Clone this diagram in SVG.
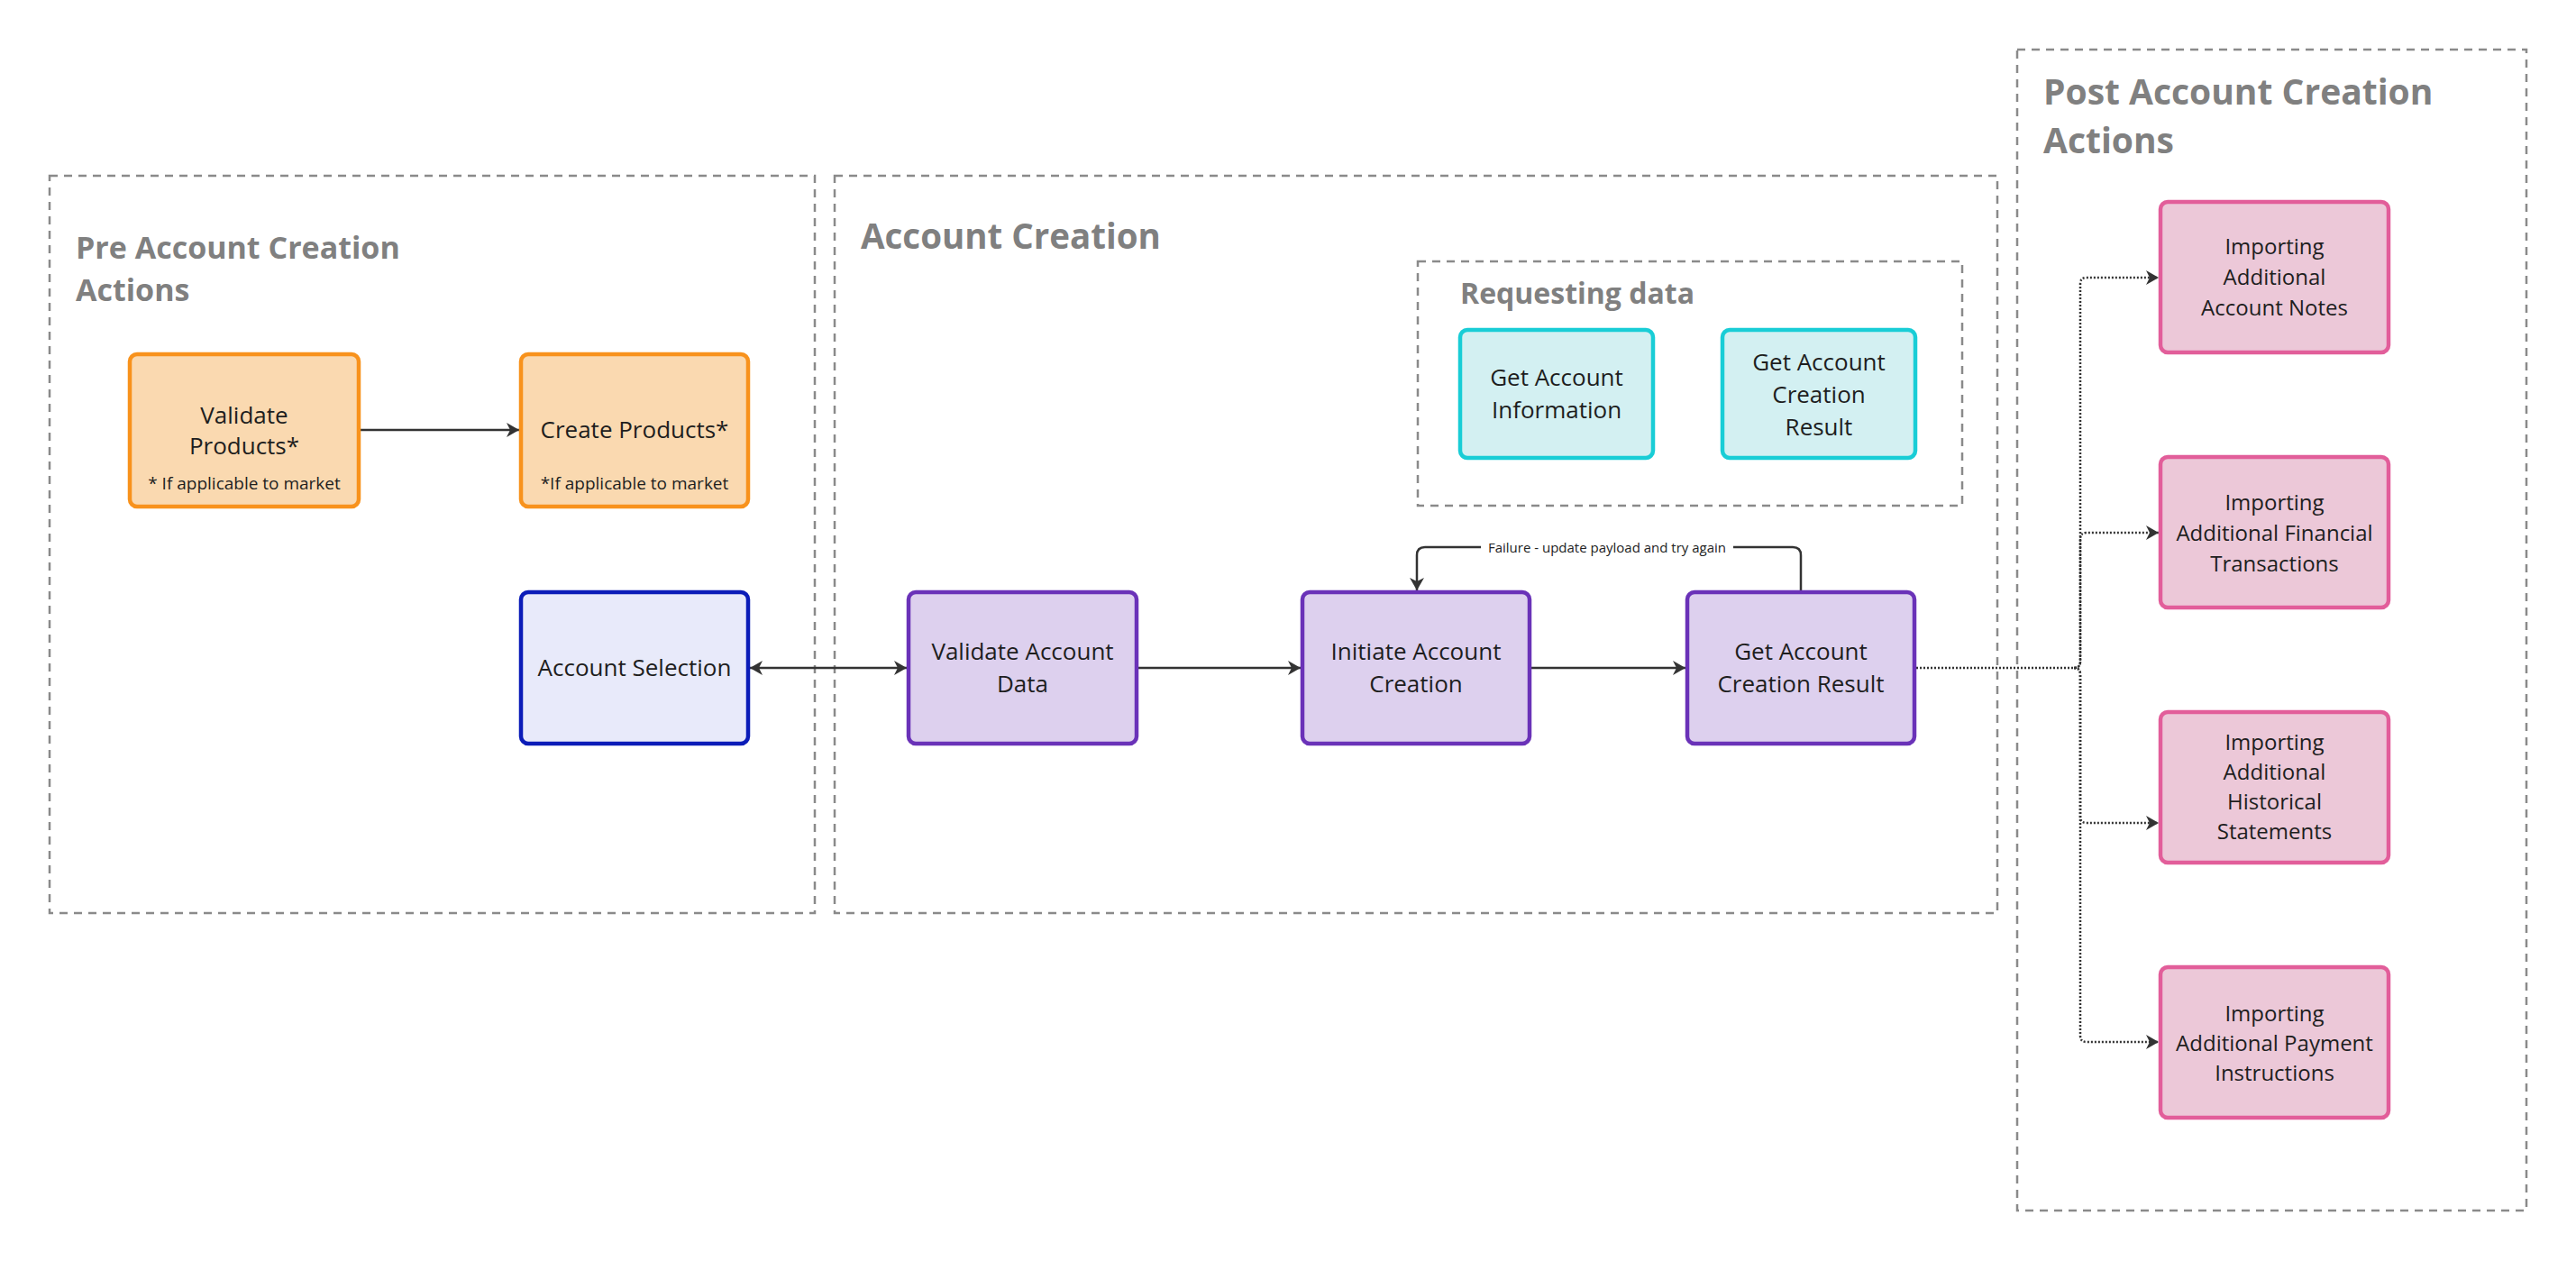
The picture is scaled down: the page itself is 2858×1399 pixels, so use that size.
<svg xmlns="http://www.w3.org/2000/svg" width="2858" height="1399" viewBox="0 0 2858 1399">
<style>
.grp{fill:none;stroke:#8a8a8a;stroke-width:2.5;stroke-dasharray:9 7}
.gt{font-family:"Open Sans","Liberation Sans",sans-serif;font-weight:700;fill:#808080}
.n rect{stroke-width:4.5}
.t{font-family:"Open Sans","Liberation Sans",sans-serif;font-size:26px;fill:#1e1e1e;text-anchor:middle}
.tp{font-family:"Open Sans","Liberation Sans",sans-serif;font-size:24px;fill:#1e1e1e;text-anchor:middle}
.ts{font-family:"Open Sans","Liberation Sans",sans-serif;font-size:19px;fill:#1e1e1e;text-anchor:middle}
.orange{fill:#fad9b0;stroke:#f8921c}
.cyan{fill:#d3f0f2;stroke:#19cdd6}
.purple{fill:#ddd0ee;stroke:#6a32b8}
.blue{fill:#e8eafa;stroke:#0b1cb8}
.pink{fill:#ecc8d8;stroke:#e25e9a}
.c{fill:none;stroke:#333;stroke-width:2.5}
.d{fill:none;stroke:#333;stroke-width:2.5;stroke-dasharray:2 2}
.lbl{font-family:"Open Sans","Liberation Sans",sans-serif;font-size:15px;fill:#222;text-anchor:middle}
</style>
<defs>
<marker id="ah" markerUnits="userSpaceOnUse" viewBox="0 0 14 16" markerWidth="14" markerHeight="16" refX="14" refY="8" orient="auto-start-reverse">
<path d="M0,0 L14,8 L0,16 L4,8 z" fill="#333"/>
</marker>
</defs>
<rect width="2858" height="1399" fill="#ffffff"/>
<g id="group-pre">
<rect class="grp" x="55" y="195" width="849" height="818"/>
<text class="gt" font-size="34" x="84" y="287">Pre Account Creation</text>
<text class="gt" font-size="34" x="84" y="334">Actions</text>
</g>
<g id="group-account-creation">
<rect class="grp" x="926" y="195" width="1290" height="818"/>
<text class="gt" font-size="38.5" x="955" y="276">Account Creation</text>
</g>
<g id="group-requesting">
<rect class="grp" x="1573" y="290" width="604" height="271"/>
<text class="gt" font-size="32" x="1620" y="337">Requesting data</text>
</g>
<g id="group-post">
<rect class="grp" x="2238" y="55" width="565" height="1288"/>
<text class="gt" font-size="39" x="2267" y="116">Post Account Creation</text>
<text class="gt" font-size="39" x="2267" y="170">Actions</text>
</g>
<g id="connectors">
<path class="c" d="M400,477 H576" marker-end="url(#ah)"/>
<path class="c" d="M832,741 H1006" marker-start="url(#ah)" marker-end="url(#ah)"/>
<path class="c" d="M1263,741 H1443" marker-end="url(#ah)"/>
<path class="c" d="M1699,741 H1870" marker-end="url(#ah)"/>
<path class="c" d="M1998,655 V616 Q1998,607 1989,607 H1581 Q1572,607 1572,616 V655" marker-end="url(#ah)"/>
<rect x="1643" y="596" width="280" height="22" fill="#ffffff"/>
<text class="lbl" x="1783" y="613">Failure - update payload and try again</text>
<path class="d" d="M2126,741 H2301 Q2308,741 2308,734 V315 Q2308,308 2315,308 H2395" marker-end="url(#ah)"/>
<path class="d" d="M2301,741 Q2308,741 2308,734 V598 Q2308,591 2315,591 H2395" marker-end="url(#ah)"/>
<path class="d" d="M2301,741 Q2308,741 2308,748 V906 Q2308,913 2315,913 H2395" marker-end="url(#ah)"/>
<path class="d" d="M2301,741 Q2308,741 2308,748 V1149 Q2308,1156 2315,1156 H2395" marker-end="url(#ah)"/>
</g>
<g id="validate-products" class="n">
<rect class="orange" x="144" y="393" width="254" height="169" rx="8"/>
<text class="t" x="271" y="470">Validate</text>
<text class="t" x="271" y="504">Products*</text>
<text class="ts" x="271" y="543">* If applicable to market</text>
</g>
<g id="create-products" class="n">
<rect class="orange" x="578" y="393" width="252" height="169" rx="8"/>
<text class="t" x="704" y="486">Create Products*</text>
<text class="ts" x="704" y="543">*If applicable to market</text>
</g>
<g id="account-selection" class="n">
<rect class="blue" x="578" y="657" width="252" height="168" rx="8"/>
<text class="t" x="704" y="750">Account Selection</text>
</g>
<g id="validate-account-data" class="n">
<rect class="purple" x="1008" y="657" width="253" height="168" rx="8"/>
<text class="t" x="1134.5" y="732">Validate Account</text>
<text class="t" x="1134.5" y="768">Data</text>
</g>
<g id="initiate-account-creation" class="n">
<rect class="purple" x="1445" y="657" width="252" height="168" rx="8"/>
<text class="t" x="1571" y="732">Initiate Account</text>
<text class="t" x="1571" y="768">Creation</text>
</g>
<g id="get-account-creation-result" class="n">
<rect class="purple" x="1872" y="657" width="252" height="168" rx="8"/>
<text class="t" x="1998" y="732">Get Account</text>
<text class="t" x="1998" y="768">Creation Result</text>
</g>
<g id="get-account-information" class="n">
<rect class="cyan" x="1620" y="366" width="214" height="142" rx="8"/>
<text class="t" x="1727" y="428">Get Account</text>
<text class="t" x="1727" y="464">Information</text>
</g>
<g id="get-account-creation-result-data" class="n">
<rect class="cyan" x="1911" y="366" width="214" height="142" rx="8"/>
<text class="t" x="2018" y="411">Get Account</text>
<text class="t" x="2018" y="447">Creation</text>
<text class="t" x="2018" y="483">Result</text>
</g>
<g id="importing-notes" class="n">
<rect class="pink" x="2397" y="224" width="253" height="167" rx="8"/>
<text class="tp" x="2523.5" y="282">Importing</text>
<text class="tp" x="2523.5" y="316">Additional</text>
<text class="tp" x="2523.5" y="350">Account Notes</text>
</g>
<g id="importing-financial" class="n">
<rect class="pink" x="2397" y="507" width="253" height="167" rx="8"/>
<text class="tp" x="2523.5" y="566">Importing</text>
<text class="tp" x="2523.5" y="600">Additional Financial</text>
<text class="tp" x="2523.5" y="634">Transactions</text>
</g>
<g id="importing-historical" class="n">
<rect class="pink" x="2397" y="790" width="253" height="167" rx="8"/>
<text class="tp" x="2523.5" y="832">Importing</text>
<text class="tp" x="2523.5" y="865">Additional</text>
<text class="tp" x="2523.5" y="898">Historical</text>
<text class="tp" x="2523.5" y="931">Statements</text>
</g>
<g id="importing-payment" class="n">
<rect class="pink" x="2397" y="1073" width="253" height="167" rx="8"/>
<text class="tp" x="2523.5" y="1133">Importing</text>
<text class="tp" x="2523.5" y="1166">Additional Payment</text>
<text class="tp" x="2523.5" y="1199">Instructions</text>
</g>
</svg>
